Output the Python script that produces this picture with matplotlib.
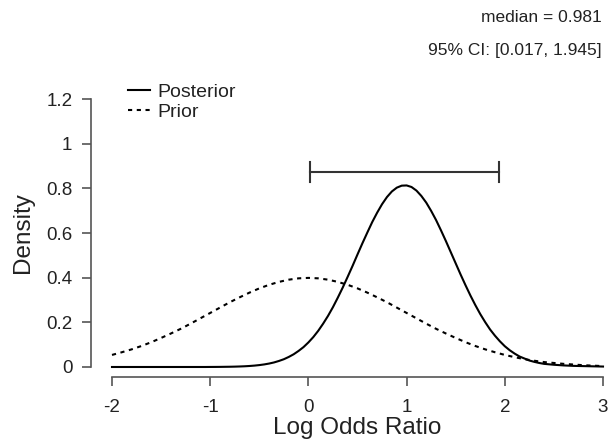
import numpy as np
import matplotlib
matplotlib.use("Agg")
import matplotlib.pyplot as plt

plt.rcParams['font.family'] = ['Liberation Sans', 'DejaVu Sans']

# valeurs lues sur l'image
# a priori : densité tous les 0.1 de -2 à 3
prior_x = np.round(np.arange(-2.0, 3.01, 0.1), 2)
prior = [0.054, 0.066, 0.079, 0.094, 0.111, 0.130, 0.150, 0.171, 0.194, 0.218,
         0.242, 0.266, 0.290, 0.312, 0.333, 0.352, 0.368, 0.381, 0.391, 0.397,
         0.399,
         0.397, 0.391, 0.381, 0.368, 0.352, 0.333, 0.312, 0.290, 0.266, 0.242,
         0.218, 0.194, 0.171, 0.150, 0.130, 0.111, 0.094, 0.079, 0.066, 0.054,
         0.044, 0.035, 0.028, 0.022, 0.018, 0.014, 0.011, 0.008, 0.006, 0.004]

# a posteriori : densité tous les 0.05 de -2 à 3
post_x = np.round(np.arange(-2.0, 3.001, 0.05), 2)
posterior = [0.0] * 20 + [
    0.0002, 0.0003, 0.0005, 0.0008, 0.0011, 0.0016, 0.0023, 0.0032, 0.0045, 0.0062,
    0.0085, 0.0115, 0.0154, 0.0204, 0.027, 0.0348, 0.045, 0.057, 0.072, 0.089,
    0.110, 0.134, 0.162, 0.194, 0.229, 0.268, 0.311, 0.356, 0.404, 0.453,
    0.504, 0.554, 0.602, 0.649, 0.691, 0.729, 0.761, 0.786, 0.803, 0.812,
    0.813, 0.806, 0.790, 0.766, 0.736, 0.699, 0.658, 0.612, 0.564, 0.514,
    0.464, 0.414, 0.366, 0.320, 0.277, 0.237, 0.201, 0.168, 0.140, 0.115,
    0.093, 0.075, 0.060, 0.047, 0.038, 0.029, 0.023, 0.018, 0.014, 0.012,
    0.010, 0.0085, 0.007, 0.006, 0.005, 0.0045, 0.004, 0.0035, 0.003, 0.0025,
    0.002]

median = 0.981
ci_low, ci_high = 0.017, 1.945
ci_height = 0.875

x_ticks = [-2, -1, 0, 1, 2, 3]
y_ticks = [0, 0.2, 0.4, 0.6, 0.8, 1.0, 1.2]
y_tick_labels = ["0", "0.2", "0.4", "0.6", "0.8", "1", "1.2"]

axis_col = "#555555"
text_col = "#222222"

fig = plt.figure(figsize=(6.14, 4.45), dpi=100)
ax = fig.add_axes([0.1824, 0.1753, 0.7997, 0.6022])

ax.plot(post_x, posterior, color="black", lw=1.5, label="Posterior", clip_on=False)
ax.plot(prior_x, prior, color="black", lw=1.5, ls=(0, (2, 2.2)), label="Prior", clip_on=False)

# intervalle de crédibilité
ax.plot([ci_low, ci_high], [ci_height, ci_height], color="#333333", lw=1.5, clip_on=False)
for xc in (ci_low, ci_high):
    ax.plot([xc, xc], [ci_height - 0.045, ci_height + 0.045], color="#333333", lw=1.5, clip_on=False)

ax.set_xlim(-2, 3)
ax.set_ylim(0, 1.2)
ax.set_xticks(x_ticks)
ax.set_xticklabels([str(v) for v in x_ticks])
ax.set_yticks(y_ticks)
ax.set_yticklabels(y_tick_labels)

for s in ("top", "right"):
    ax.spines[s].set_visible(False)
ax.spines["left"].set_position(("outward", 15))
ax.spines["bottom"].set_position(("outward", 7.5))
for s in ("left", "bottom"):
    ax.spines[s].set_color(axis_col)
    ax.spines[s].set_linewidth(1.2)
ax.tick_params(direction="out", length=6.5, width=1.2, color=axis_col,
               labelsize=13.5, labelcolor=text_col)
ax.tick_params(axis="x", pad=9)
ax.tick_params(axis="y", pad=7)

ax.set_xlabel("Log Odds Ratio", fontsize=17.5, color=text_col, labelpad=1)
ax.set_ylabel("Density", fontsize=17.5, color=text_col, labelpad=9)

leg = ax.legend(loc="upper left", bbox_to_anchor=(0.033, 1.059), frameon=False,
                fontsize=14, handlelength=1.13, handletextpad=0.38,
                labelspacing=0.12, borderaxespad=0, borderpad=0)
for t in leg.get_texts():
    t.set_color(text_col)

fig.text(0.980, 1 - 18 / 445, f"median = {median:.3f}", ha="right", va="center",
         fontsize=12.5, color=text_col)
fig.text(0.980, 1 - 50 / 445, f"95% CI: [{ci_low:.3f}, {ci_high:.3f}]", ha="right",
         va="center", fontsize=12.5, color=text_col)

fig.savefig("out.png", dpi=100)
